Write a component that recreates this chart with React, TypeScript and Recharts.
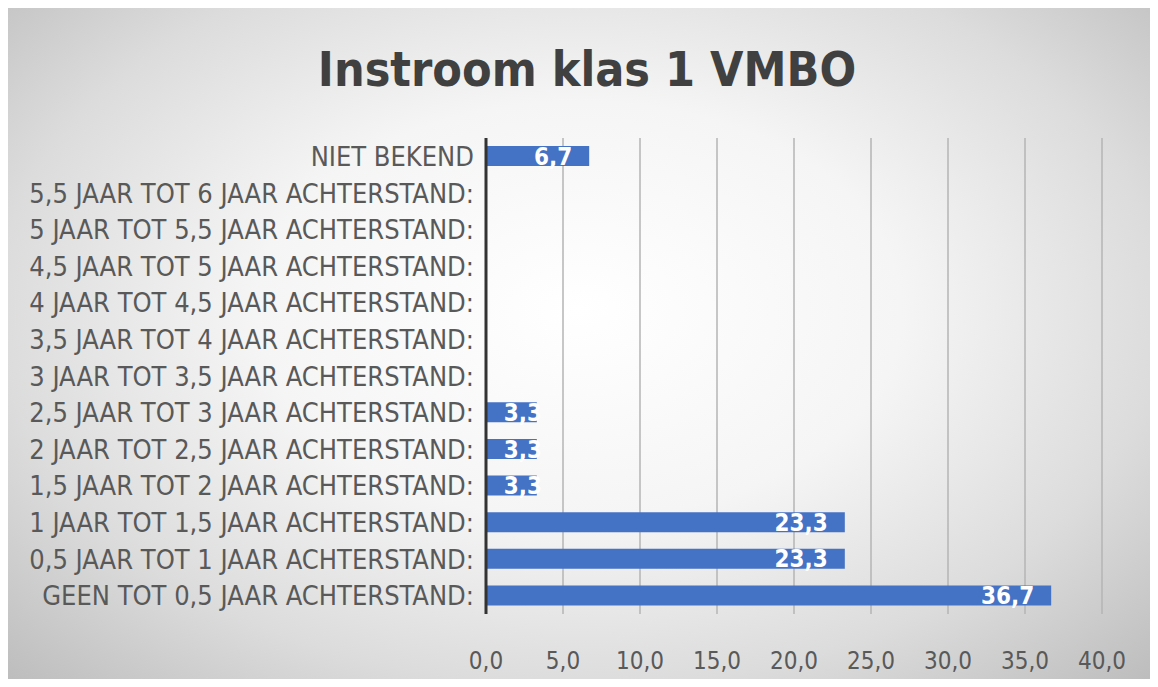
import React from "react";
import { Bar, BarChart, CartesianGrid, LabelList, XAxis, YAxis } from "recharts";

// categorieën van boven naar beneden
const categories = [
  "NIET BEKEND",
  "5,5 JAAR TOT 6 JAAR ACHTERSTAND:",
  "5 JAAR TOT 5,5 JAAR ACHTERSTAND:",
  "4,5 JAAR TOT 5 JAAR ACHTERSTAND:",
  "4 JAAR TOT 4,5 JAAR ACHTERSTAND:",
  "3,5 JAAR TOT 4 JAAR ACHTERSTAND:",
  "3 JAAR TOT 3,5 JAAR ACHTERSTAND:",
  "2,5 JAAR TOT 3 JAAR ACHTERSTAND:",
  "2 JAAR TOT 2,5 JAAR ACHTERSTAND:",
  "1,5 JAAR TOT 2 JAAR ACHTERSTAND:",
  "1 JAAR TOT 1,5 JAAR ACHTERSTAND:",
  "0,5 JAAR TOT 1 JAAR ACHTERSTAND:",
  "GEEN TOT 0,5 JAAR ACHTERSTAND:",
];
const percentages = [6.7, 0, 0, 0, 0, 0, 0, 3.3, 3.3, 3.3, 23.3, 23.3, 36.7];
const xTicks = [0, 5, 10, 15, 20, 25, 30, 35, 40];

const data = categories.map((name, i) => ({ name, value: percentages[i] }));

const FONT = "'Liberation Sans Narrow', 'DejaVu Sans Condensed', sans-serif";
const fmt = (v: number) => v.toFixed(1).replace(".", ",");

// waardelabel rechts binnen de balk, bij smalle balken net rechts van de as
const ValueLabel = (props: any) => {
  const { x, y, width, height, value } = props;
  const right = Math.max(x + width - 17, x + 56);
  return (
    <text
      x={right}
      y={y + height / 2}
      dy="0.36em"
      textAnchor="end"
      fill="#ffffff"
      fontFamily={FONT}
      fontSize={24}
      fontWeight={600}
    >
      {fmt(Number(value))}
    </text>
  );
};

export default function App() {
  return (
    <div
      style={{
        position: "relative",
        width: 1142,
        height: 671,
        background: "radial-gradient(ellipse at 50% 45%, #ffffff 0%, #f5f5f5 40%, #dcdcdc 72%, #bdbdbd 100%)",
      }}
    >
      <div
        style={{
          position: "absolute",
          top: 33,
          left: 8,
          width: 1142,
          textAlign: "center",
          fontFamily: FONT,
          fontWeight: 600,
          fontSize: 48,
          color: "#404040",
        }}
      >
        Instroom klas 1 VMBO
      </div>
      <BarChart
        width={1142}
        height={671}
        data={data}
        layout="vertical"
        margin={{ top: 130, right: 48, bottom: 0, left: 0 }}
        barSize={20}
      >
        <CartesianGrid horizontal={false} stroke="#b4b4b4" strokeWidth={1.5} />
        <XAxis
          type="number"
          domain={[0, 40]}
          ticks={xTicks}
          tickFormatter={fmt}
          axisLine={false}
          tickLine={false}
          tickSize={0}
          tickMargin={38}
          height={65}
          tick={{ fill: "#595959", fontSize: 24, fontFamily: FONT }}
        />
        <YAxis
          type="category"
          dataKey="name"
          width={478}
          axisLine={{ stroke: "#333333", strokeWidth: 3 }}
          tickLine={false}
          tickSize={0}
          tickMargin={12}
          interval={0}
          tick={{ fill: "#595959", fontSize: 27, fontFamily: FONT }}
        />
        <Bar dataKey="value" fill="#4472c4" isAnimationActive={false}>
          <LabelList dataKey="value" content={ValueLabel} />
        </Bar>
      </BarChart>
    </div>
  );
}
